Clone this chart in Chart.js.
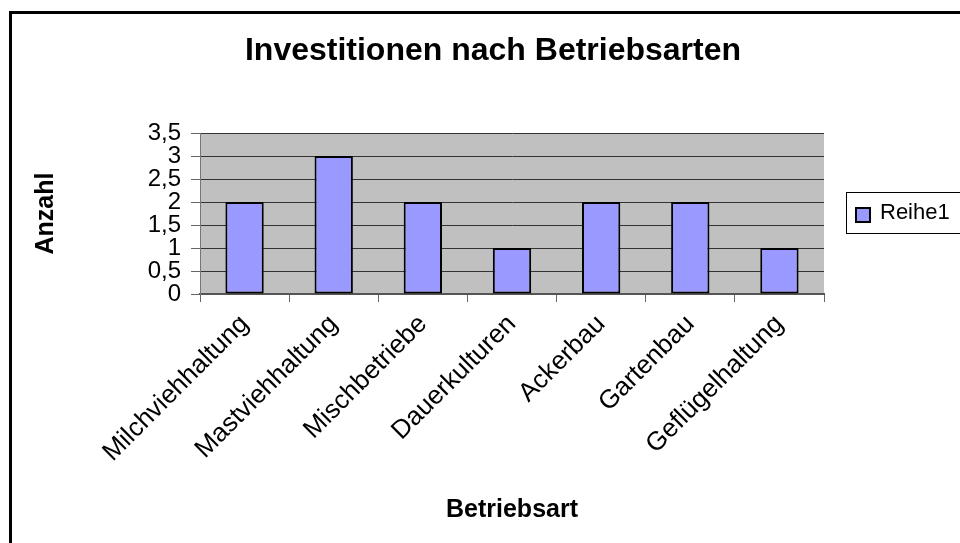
<!DOCTYPE html>
<html lang="de">
<head>
<meta charset="UTF-8">
<title>Investitionen nach Betriebsarten</title>
<script src="https://cdn.jsdelivr.net/npm/chart.js@4.4.0/dist/chart.umd.min.js"></script>
<style>
  html, body { margin: 0; padding: 0; background: #fff; }
  #wrap { width: 960px; height: 543px; position: relative; }
</style>
</head>
<body>
<div id="wrap"><canvas id="c" width="960" height="543"></canvas></div>
<script>
// Daten
const categories = ["Milchviehhaltung", "Mastviehhaltung", "Mischbetriebe", "Dauerkulturen", "Ackerbau", "Gartenbau", "Geflügelhaltung"];
const seriesName = "Reihe1";
const values = [2, 3, 2, 1, 2, 2, 1];
const yTicks = [0, 0.5, 1, 1.5, 2, 2.5, 3, 3.5];
const chartTitle = "Investitionen nach Betriebsarten";

const FONT = '"Liberation Sans", Arial, sans-serif';

// grauer Plotbereich, Rahmen, Titel und Legende im Excel-Stil
const excelLook = {
  id: 'excelLook',
  beforeDraw(chart) {
    const { ctx, chartArea: a } = chart;
    ctx.save();
    ctx.fillStyle = '#c0c0c0';
    ctx.fillRect(a.left, a.top, a.right - a.left, a.bottom - a.top);
    ctx.restore();
  },
  afterDraw(chart) {
    const ctx = chart.ctx;
    const ds = chart.data.datasets[0];
    ctx.save();
    // Außenrahmen
    ctx.strokeStyle = '#000';
    ctx.lineWidth = 3;
    ctx.strokeRect(10.5, 12.5, 980, 560);
    // Titel (über dem ganzen Diagramm zentriert, nicht nur über dem Plot)
    ctx.fillStyle = '#000';
    ctx.font = 'bold 32px ' + FONT;
    ctx.textAlign = 'center';
    ctx.textBaseline = 'middle';
    ctx.fillText(chartTitle, 493, 51);
    // Legende
    ctx.textAlign = 'left';
    ctx.lineWidth = 1;
    ctx.strokeRect(846.5, 192.5, 200, 41);
    ctx.fillStyle = ds.backgroundColor;
    ctx.fillRect(856, 208, 14, 14);
    ctx.lineWidth = 2;
    ctx.strokeRect(856, 208, 14, 14);
    ctx.fillStyle = '#000';
    ctx.font = '22px ' + FONT;
    ctx.fillText(ds.label, 880, 213);
    ctx.restore();
  }
};

new Chart(document.getElementById('c'), {
  type: 'bar',
  data: {
    labels: categories,
    datasets: [{
      label: seriesName,
      data: values,
      backgroundColor: '#9999ff',
      borderColor: '#000',
      borderWidth: 2,
      borderSkipped: false,
      barPercentage: 0.43,
      categoryPercentage: 1
    }]
  },
  options: {
    responsive: false,
    animation: false,
    layout: { padding: { left: 0, right: 136, top: 133, bottom: 0 } },
    plugins: {
      legend: { display: false },
      tooltip: { enabled: false },
      title: { display: false }
    },
    scales: {
      x: {
        afterFit: s => { s.height = 249; },
        grid: { offset: true, drawOnChartArea: false, drawTicks: true, tickLength: 8, color: '#666' },
        border: { color: '#555', width: 2 },
        ticks: {
          color: '#000',
          font: { family: FONT, size: 26 },
          minRotation: 45,
          maxRotation: 45,
          padding: 7,
          autoSkip: false
        },
        title: {
          display: true,
          text: 'Betriebsart',
          color: '#000',
          font: { family: FONT, size: 25, weight: 'bold', lineHeight: 1.2 },
          padding: { top: 0, bottom: 18 }
        }
      },
      y: {
        min: 0,
        max: 3.5,
        afterFit: s => { s.width = 200; },
        afterBuildTicks: s => { s.ticks = yTicks.map(v => ({ value: v })); },
        grid: { color: '#333', lineWidth: 1, tickLength: 9, tickColor: '#666' },
        border: { color: '#777', width: 1 },
        ticks: {
          color: '#000',
          font: { family: FONT, size: 24 },
          padding: 10,
          autoSkip: false,
          callback: v => String(v).replace('.', ',')
        },
        title: {
          display: true,
          text: 'Anzahl',
          color: '#000',
          font: { family: FONT, size: 25, weight: 'bold', lineHeight: 1.2 },
          padding: { top: 31, bottom: 0 }
        }
      }
    }
  },
  plugins: [excelLook]
});
</script>
</body>
</html>
